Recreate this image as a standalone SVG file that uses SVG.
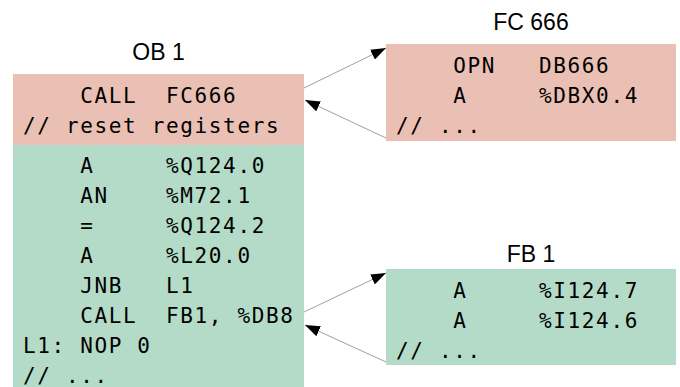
<svg xmlns="http://www.w3.org/2000/svg" width="680" height="387" viewBox="0 0 680 387" xml:space="preserve">
  <style>
    .title { font-family: "Liberation Sans", Arial, sans-serif; font-size: 23px; fill: #000; text-anchor: middle; }
    .code { font-family: "DejaVu Sans Mono", monospace; font-size: 21px; letter-spacing: 1.65px; white-space: pre; fill: #000; }
    .red { fill: #ebc0b4; }
    .green { fill: #b3dbc7; }
    .edge { stroke: #a0a0a0; stroke-width: 1; fill: none; marker-end: url(#arrow); }
  </style>
  <defs>
    <marker id="arrow" markerUnits="userSpaceOnUse" markerWidth="15" markerHeight="11" refX="15" refY="5.5" orient="auto">
      <path d="M0,0 L15,5.5 L0,11 Z" fill="#000"/>
    </marker>
  </defs>

  <rect width="680" height="387" fill="#fff"/>

  <!-- Organisation block OB 1 -->
  <g id="ob1">
    <text class="title" x="158.5" y="60">OB 1</text>
    <rect class="red" x="13" y="74" width="291" height="71"/>
    <rect class="green" x="13" y="145" width="291" height="242"/>
    <text class="code" x="23" y="103">    CALL  FC666</text>
    <text class="code" x="23" y="133">// reset registers</text>
    <text class="code" x="23" y="173">    A     %Q124.0</text>
    <text class="code" x="23" y="203">    AN    %M72.1</text>
    <text class="code" x="23" y="233">    =     %Q124.2</text>
    <text class="code" x="23" y="263">    A     %L20.0</text>
    <text class="code" x="23" y="293">    JNB   L1</text>
    <text class="code" x="23" y="323">    CALL  FB1, %DB8</text>
    <text class="code" x="23" y="353">L1: NOP 0</text>
    <text class="code" x="23" y="383">// ...</text>
  </g>

  <!-- Function FC 666 -->
  <g id="fc666">
    <text class="title" x="531" y="30">FC 666</text>
    <rect class="red" x="386" y="44" width="290" height="97"/>
    <text class="code" x="396" y="73">    OPN   DB666</text>
    <text class="code" x="396" y="103">    A     %DBX0.4</text>
    <text class="code" x="396" y="133">// ...</text>
  </g>

  <!-- Function block FB 1 -->
  <g id="fb1">
    <text class="title" x="531" y="262">FB 1</text>
    <rect class="green" x="386" y="269" width="290" height="96"/>
    <text class="code" x="396" y="298">    A     %I124.7</text>
    <text class="code" x="396" y="328">    A     %I124.6</text>
    <text class="code" x="396" y="358">// ...</text>
  </g>

  <!-- Call and return connectors -->
  <g id="connectors">
    <line class="edge" x1="304" y1="88" x2="386" y2="48"/>
    <line class="edge" x1="386" y1="138" x2="305" y2="100"/>
    <line class="edge" x1="304" y1="312" x2="386" y2="273"/>
    <line class="edge" x1="386" y1="362" x2="305" y2="325"/>
  </g>
</svg>
